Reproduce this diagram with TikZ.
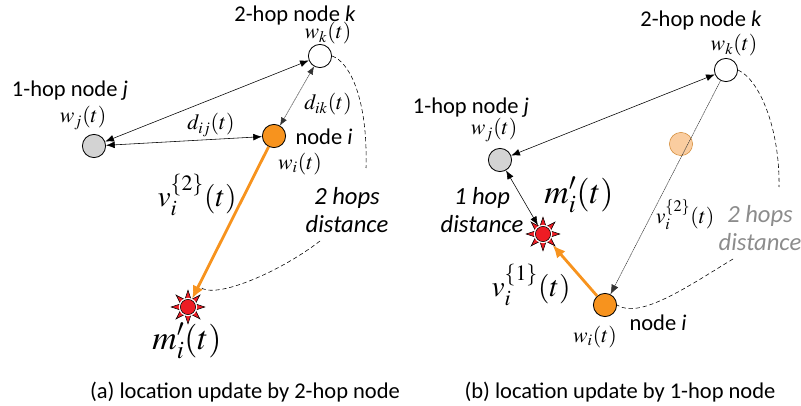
\documentclass[tikz,border=0pt]{standalone}
\usepackage{amsmath}
\usepackage{mathptmx}
\usepackage[no-math]{fontspec}
\setmainfont{Carlito}
\usepackage{tikz}
\usetikzlibrary{arrows.meta,positioning,shapes.geometric}
\definecolor{nodeorange}{RGB}{247,147,30}
\definecolor{softgray}{RGB}{211,211,211}
\definecolor{softorange}{RGB}{250,205,160}
\definecolor{burstred}{RGB}{237,28,36}
\definecolor{fadedgray}{RGB}{140,140,140}
\tikzset{
  host/.style={circle, draw=black, semithick, minimum size=0.58cm, inner sep=0pt},
  hostgray/.style={host, fill=softgray},
  hostwhite/.style={host, fill=white},
  hostorange/.style={host, fill=nodeorange},
  hostghost/.style={circle, draw=nodeorange!70!gray, fill=softorange, minimum size=0.58cm, inner sep=0pt},
  burstray/.style={star, star points=8, star point ratio=2.1, draw=black, fill=burstred, minimum size=0.84cm, inner sep=0pt},
  burstgap/.style={circle, fill=white, minimum size=0.46cm, inner sep=0pt},
  burstcore/.style={circle, draw=black, fill=burstred, minimum size=0.38cm, inner sep=0pt},
  arrow/.style={{Latex[length=2.2mm,width=1.7mm]}-{Latex[length=2.2mm,width=1.7mm]}, black},
  arrowthin/.style={{Latex[length=2mm,width=1.6mm]}-{Latex[length=2mm,width=1.6mm]}, black!80, line width=0.35pt, dash pattern=on 1pt off 0.4pt},
  arrowfade/.style={-{Latex[length=2.4mm,width=1.9mm]}, black!80, line width=0.35pt, dash pattern=on 1pt off 0.4pt},
  arroworange/.style={-{Latex[length=3.2mm,width=2.8mm]}, nodeorange, line width=2pt},
  hopcurve/.style={black, densely dashed},
  caption/.style={font=\fontsize{16}{18}\selectfont},
  tag/.style={font=\fontsize{16}{18}\selectfont, inner sep=0pt},
  hoptag/.style={font=\fontsize{17.5}{20.5}\selectfont\itshape, align=center, inner sep=0pt},
  mathsmall/.style={font=\fontsize{15.5}{18}\selectfont, inner sep=0pt},
  mathlarge/.style={font=\fontsize{21}{24}\selectfont, inner sep=0pt},
  mathprime/.style={font=\fontsize{24}{26}\selectfont, inner sep=0pt},
}

\begin{document}
\begin{tikzpicture}[x=0.025cm, y=-0.025cm]
\useasboundingbox (0,0) rectangle (801,406);

% (a) 2-hop node
\node[hostwhite] (ka) at (320,56) {};
\node[hostgray] (ja) at (94,146) {};
\node[hostorange] (ia) at (274,136) {};
\node[burstray] (ma) at (188,307) {};
\node[burstgap] (ga) at (ma) {};
\node[burstcore] (ca) at (ma) {};

\node[tag] (kla) at (295,16) {2-hop node \textit{k}};
\node[mathsmall] (kwa) at (328,33) {$w_k(t)$};
\node[tag] (jla) at (70,91) {1-hop node \textit{j}};
\node[mathsmall] (jwa) at (83,118) {$w_j(t)$};
\node[tag] (ila) at (324,137) {node \textit{i}};
\node[mathsmall] (iwa) at (300,164) {$w_i(t)$};
\node[mathsmall] (dija) at (211,125) {$d_{ij}(t)$};
\node[mathsmall] (dika) at (328,104) {$d_{ik}(t)$};
\node[mathlarge] (va) at (197,195) {$v_i^{\{2\}}(t)$};
\node[mathprime] (mla) at (187,341) {$m_i'(t)$};
\node[hoptag] (hopa) at (347,210) {2 hops\\distance};
\node[caption] (capa) at (245,392) {(a) location update by 2-hop node};

\coordinate (hopatop) at (366,168);
\coordinate (hopabot) at (320,241);
\coordinate (hopaend) at (200,287);

\draw[arrow] (ja) -- (ka);
\draw[arrow] (ja) -- (ia);
\draw[arrowthin] (ia) -- (ka);
\draw[arroworange] (ia) -- (ma);
\draw[hopcurve] (ka.east) .. controls (350,62) and (368,100) .. (hopatop);
\draw[hopcurve] (hopabot) .. controls (280,272) and (215,300) .. (hopaend);

% (b) 1-hop node
\node[hostwhite] (kb) at (726,70) {};
\node[hostgray] (jb) at (500,160) {};
\node[hostghost] (gb) at (681,144) {};
\node[hostorange] (ib) at (605,305) {};
\node[burstray] (mb) at (543,234) {};
\node[burstgap] (gapb) at (mb) {};
\node[burstcore] (cb) at (mb) {};

\node[tag] (klb) at (701,21) {2-hop node \textit{k}};
\node[mathsmall] (kwb) at (734,45) {$w_k(t)$};
\node[tag] (jlb) at (471,108) {1-hop node \textit{j}};
\node[mathsmall] (jwb) at (494,130) {$w_j(t)$};
\node[tag] (ilb) at (658,323) {node \textit{i}};
\node[mathsmall] (iwb) at (595,337) {$w_i(t)$};
\node[hoptag] (onehop) at (482,210) {1 hop\\distance};
\node[mathprime] (mlb) at (579,195) {$m_i'(t)$};
\node[mathsmall] (vtwob) at (685,215) {$v_i^{\{2\}}(t)$};
\node[mathlarge] (vb) at (531,285) {$v_i^{\{1\}}(t)$};
\node[hoptag, text=fadedgray] (hopb) at (760,228) {2 hops\\distance};
\node[caption] (capb) at (620,392) {(b) location update by 1-hop node};

\coordinate (hopbtop) at (779,187);
\coordinate (hopbbot) at (733,259);

\draw[arrow] (jb) -- (kb);
\draw[arrow] (jb) -- (mb);
\draw[arrowfade] (kb) -- (ib);
\draw[arroworange] (ib) -- (mb);
\draw[hopcurve] (kb.east) .. controls (760,80) and (780,130) .. (hopbtop);
\draw[hopcurve] (hopbbot) .. controls (690,285) and (640,320) .. (ib.east);
\end{tikzpicture}
\end{document}
